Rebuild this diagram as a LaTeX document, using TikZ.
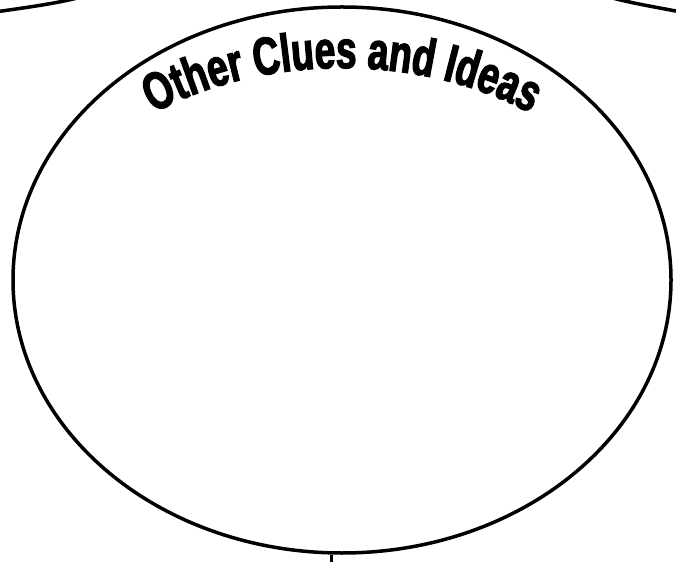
\documentclass[tikz,border=0pt]{standalone}
\usepackage{fontspec}
\usepackage{tikz}
\usetikzlibrary{shapes.geometric, positioning, calc, decorations.text}
\newfontfamily\cluefont[FakeStretch=0.7, FakeBold=2.4]{Liberation Sans}
\tikzset{
  bigoval/.style={ellipse, draw, line width=3.5pt, minimum width=658pt, minimum height=546pt, inner sep=0pt},
  rim/.style={line width=3.5pt}
}

\begin{document}
\begin{tikzpicture}[x=1pt, y=1pt]
        \useasboundingbox (0,0) rectangle (676,562);
        % Main oval
        \node[bigoval] (clues) at (342,282) {};

        % Title bent along the top of the oval
        \path[decorate, decoration={text along path, text align=center,
            text={|\cluefont\bfseries\fontsize{53}{57}\selectfont|Other Clues and Ideas}}]
            ($(clues.center)+(175:305 and 212)$) arc[start angle=175, end angle=5, x radius=305, y radius=212];

        % Neighbouring ovals, cut off at the corners
        \begin{scope}
            \clip (0,0) rectangle (676,562);
            \draw[rim] (-5,550) .. controls (30,555) and (60,559) .. (85,566);
            \draw[rim] (605,566) .. controls (630,559) and (655,555) .. (681,550);
        \end{scope}

        % Link downwards
        \coordinate (linkend) at (331,0);
        \draw[line width=3pt] (linkend) -- (linkend |- clues.south);
    \end{tikzpicture}
\end{document}
